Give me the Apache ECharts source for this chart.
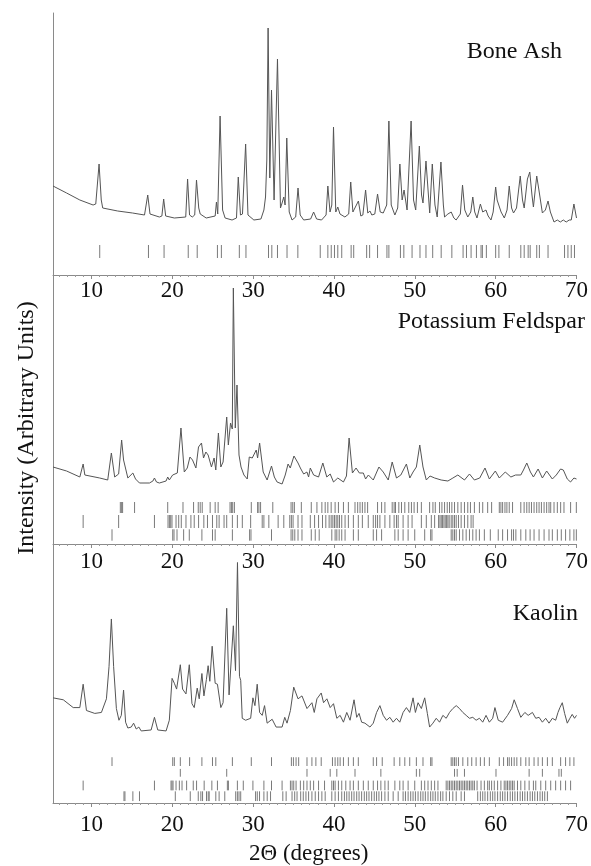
<!DOCTYPE html>
<html>
<head>
<meta charset="utf-8">
<script src="https://cdn.jsdelivr.net/npm/echarts@6/dist/echarts.min.js"></script>
<style>
html,body{margin:0;padding:0;background:#fff;}
#chart{width:591px;height:866px;}
</style>
</head>
<body>
<div id="chart"></div>
<script>
// ---- axis ticks / labels (2-theta, degrees) ----
const xLabels = [10, 20, 30, 40, 50, 60, 70];
const xMinorTicks = [6,7,8,9,10,11,12,13,14,15,16,17,18,19,20,21,22,23,24,25,26,27,28,29,30,31,32,33,34,35,36,37,38,39,40,41,42,43,44,45,46,47,48,49,50,51,52,53,54,55,56,57,58,59,60,61,62,63,64,65,66,67,68,69,70];
const panelTitles = ['Bone Ash', 'Potassium Feldspar', 'Kaolin'];

// ---- measured patterns [2theta, intensity (arbitrary units)] ----
const boneAshPattern = [
[5.24,89],[6.92,82],[8.56,75],[10.20,70],[10.53,71],[10.94,111],[11.21,75],[11.39,67],[13.24,64],[15.08,62],[16.56,60],[16.96,80],[17.24,61],[18.40,58],[18.71,59],[18.93,76],[19.18,59],[20.25,57],[21.66,58],[21.89,96],[22.13,60],[22.47,58],[22.77,60],[22.99,95],[23.27,67],[23.45,61],[24.19,57],[25.30,59],[25.46,73],[25.62,61],[25.91,159],[26.22,65],[26.53,57],[27.39,55],[27.94,57],[28.16,98],[28.43,60],[28.68,61],[29.07,131],[29.36,60],[30.09,55],[30.96,56],[31.33,65],[31.53,78],[31.69,115],[31.85,247],[32.06,97],[32.27,185],[32.59,75],[33.01,216],[33.38,67],[33.58,72],[33.79,78],[33.95,70],[34.16,137],[34.46,63],[34.81,55],[35.26,58],[35.55,87],[35.82,60],[36.25,55],[37.11,56],[37.48,63],[37.85,56],[38.46,55],[39.02,60],[39.24,89],[39.51,63],[39.73,70],[39.94,148],[40.22,63],[40.47,68],[40.74,61],[40.98,63],[41.35,58],[41.82,61],[42.07,93],[42.34,63],[42.58,65],[43.02,74],[43.32,59],[43.57,60],[43.91,85],[44.18,62],[44.45,64],[44.68,60],[45.05,61],[45.39,81],[45.72,63],[46.09,62],[46.52,70],[46.79,154],[47.08,70],[47.53,60],[47.88,67],[48.15,111],[48.43,75],[48.67,85],[49.04,65],[49.54,154],[49.84,75],[50.11,65],[50.56,129],[50.83,80],[51.01,72],[51.38,114],[51.84,62],[52.16,111],[52.49,70],[52.77,58],[53.23,113],[53.53,70],[53.68,58],[54.09,61],[54.50,63],[54.83,57],[55.11,55],[55.63,61],[55.90,90],[56.18,65],[56.55,58],[56.92,63],[57.17,78],[57.41,63],[57.69,57],[58.11,71],[58.40,63],[58.80,65],[59.07,59],[59.42,55],[59.69,63],[60.00,88],[60.18,75],[60.37,77],[60.67,63],[61.07,57],[61.41,65],[61.68,89],[61.97,67],[62.21,62],[62.58,67],[63.04,99],[63.32,75],[63.53,67],[63.93,96],[64.22,103],[64.49,80],[64.67,68],[65.08,99],[65.35,85],[65.78,62],[66.15,65],[66.48,74],[66.77,63],[67.22,53],[67.63,55],[68.00,53],[68.37,55],[68.73,53],[69.10,55],[69.35,55],[69.68,71],[70.00,57]
];
const feldsparPattern = [
[5.24,77],[6.92,73],[8.56,67],[8.97,80],[9.18,69],[11.02,66],[12.01,64],[12.46,91],[12.87,67],[13.36,70],[13.73,104],[13.97,84],[14.50,66],[15.12,71],[15.45,65],[15.94,61],[17.17,61],[17.60,63],[17.79,66],[18.04,62],[18.40,61],[19.23,63],[19.43,67],[19.63,64],[19.84,65],[20.04,69],[20.62,71],[21.07,116],[21.48,72],[21.85,76],[22.18,87],[22.50,84],[22.92,76],[23.24,97],[23.61,101],[23.86,86],[24.15,92],[24.43,89],[24.84,77],[25.17,86],[25.38,74],[25.70,111],[26.00,77],[26.28,82],[26.53,107],[26.73,127],[26.93,99],[27.20,121],[27.42,115],[27.55,256],[27.79,116],[28.00,159],[28.25,89],[28.50,77],[28.86,69],[29.27,65],[29.52,87],[29.89,86],[30.38,94],[30.55,86],[30.80,101],[31.24,72],[31.73,64],[32.27,78],[32.62,67],[32.96,62],[33.58,60],[33.97,69],[34.32,80],[34.59,76],[35.05,88],[35.55,81],[35.84,76],[36.04,73],[36.25,70],[36.65,72],[36.86,67],[37.07,76],[37.48,69],[38.09,67],[38.62,81],[39.11,67],[39.53,70],[39.94,62],[40.47,66],[41.17,62],[41.54,68],[41.87,106],[42.28,71],[42.73,76],[43.14,71],[43.63,71],[43.91,65],[44.25,69],[44.86,64],[45.56,77],[46.09,72],[46.71,64],[47.20,82],[47.73,66],[48.27,69],[48.96,80],[49.38,66],[49.78,72],[50.19,77],[50.61,99],[51.01,77],[51.42,64],[51.88,68],[52.45,66],[53.26,64],[54.09,63],[54.71,66],[55.32,69],[56.14,64],[56.76,70],[57.37,64],[58.03,66],[58.68,76],[59.22,65],[59.96,73],[60.45,66],[61.19,72],[61.88,67],[62.46,69],[63.11,69],[63.44,74],[63.85,81],[64.30,72],[64.67,67],[65.25,75],[65.78,66],[66.31,73],[67.01,65],[67.50,69],[68.03,75],[68.37,74],[68.86,65],[69.26,62],[69.68,66],[70.00,65]
];
const kaolinPattern = [
[5.24,108],[6.51,106],[7.74,98],[8.56,98],[8.97,122],[9.38,95],[10.41,92],[11.23,93],[11.85,107],[12.17,140],[12.46,189],[12.74,140],[13.08,97],[13.40,85],[13.69,90],[13.97,116],[14.22,83],[14.50,77],[14.92,78],[15.21,82],[15.54,76],[15.86,78],[16.15,74],[17.38,75],[17.79,88],[18.20,75],[19.23,74],[19.63,85],[19.97,128],[20.25,123],[20.53,117],[20.99,142],[21.27,117],[21.69,112],[22.10,142],[22.43,102],[22.71,98],[23.08,118],[23.33,107],[23.66,133],[23.91,110],[24.22,127],[24.43,141],[24.64,125],[24.93,161],[25.30,123],[25.58,122],[26.00,98],[26.28,103],[26.73,200],[27.02,111],[27.26,109],[27.55,182],[27.82,136],[28.06,247],[28.31,130],[28.46,126],[28.65,87],[29.07,85],[29.69,87],[29.97,108],[30.22,100],[30.50,122],[30.80,93],[31.12,90],[31.41,100],[31.73,82],[32.35,86],[32.84,78],[33.58,78],[33.91,88],[34.19,82],[34.61,95],[35.02,119],[35.55,107],[36.04,110],[36.66,97],[37.27,103],[37.56,93],[37.89,107],[38.42,113],[38.71,103],[39.12,107],[39.53,98],[39.94,102],[40.35,87],[40.76,90],[41.17,83],[41.58,93],[41.99,85],[42.48,106],[42.81,88],[43.10,92],[43.42,83],[43.83,82],[44.45,78],[44.86,82],[45.27,93],[45.68,100],[46.09,90],[46.50,85],[46.91,88],[47.32,83],[47.73,87],[48.14,83],[48.55,93],[48.96,98],[49.37,93],[49.78,108],[50.07,93],[50.40,103],[50.81,97],[51.22,108],[51.55,92],[51.83,78],[52.24,82],[52.65,87],[53.06,83],[53.47,90],[53.88,87],[54.29,93],[54.70,97],[55.12,100],[55.53,97],[55.94,93],[56.35,90],[56.76,87],[57.17,88],[57.58,85],[57.99,87],[58.40,83],[58.81,90],[59.22,83],[59.63,87],[59.91,98],[60.32,85],[60.86,83],[61.47,90],[61.97,97],[62.29,106],[62.70,97],[63.11,88],[63.61,93],[64.02,90],[64.55,93],[64.96,87],[65.37,88],[65.78,83],[66.19,87],[66.60,82],[67.01,87],[67.42,85],[67.71,93],[67.95,98],[68.24,103],[68.53,92],[68.86,82],[69.18,87],[69.47,91],[69.76,87],[70.00,90]
];

// ---- reference peak positions (2theta) ----
const boneAshRefs = [11.02,17.05,18.98,21.97,23.08,25.58,26.07,28.29,29.11,31.90,32.31,33.01,34.19,35.53,38.30,39.24,39.66,40.06,40.47,40.96,42.12,42.44,44.04,44.41,45.39,46.55,46.79,48.22,48.64,49.66,50.64,51.38,52.21,53.26,54.58,55.97,56.39,56.96,57.62,58.19,58.36,58.85,60.00,60.40,61.68,63.11,63.53,64.02,64.27,65.08,65.41,66.48,68.52,68.94,69.35,69.75];

const feldsparRefs1 = [13.57,13.73,13.85,15.33,19.43,21.32,22.63,23.21,23.45,23.70,24.68,25.30,25.67,27.14,27.31,27.47,27.68,29.77,30.55,30.71,30.92,32.43,34.69,34.90,35.10,35.96,37.19,37.89,38.50,38.91,39.24,39.65,40.14,40.55,41.17,41.78,42.60,42.93,43.22,43.51,43.83,44.16,45.39,45.89,46.30,47.20,47.44,47.61,48.02,48.35,48.76,49.25,49.58,49.91,50.32,50.81,51.83,52.24,52.53,53.06,53.35,53.68,54.01,54.29,54.58,54.91,55.32,55.73,56.14,56.55,56.88,57.37,57.99,58.40,59.01,59.50,60.45,60.65,60.86,61.15,61.39,61.68,62.09,63.11,63.52,63.85,64.14,64.43,64.75,65.08,65.37,65.66,65.99,66.31,66.60,66.81,67.22,67.63,68.04,68.45,69.27,69.98];
const feldsparRefs2 = [8.97,13.36,17.79,19.47,19.64,19.80,19.96,20.46,20.79,21.11,21.69,22.30,22.71,23.25,23.90,24.35,24.97,25.50,25.79,26.40,26.73,27.43,28.05,28.66,29.69,31.12,31.33,31.94,33.09,33.79,34.53,34.73,34.94,35.55,36.04,37.07,37.60,38.09,38.58,38.99,39.40,39.65,39.86,40.06,40.27,40.47,40.68,40.96,41.37,41.78,42.40,43.01,43.51,44.24,44.86,45.15,45.39,45.68,46.30,46.91,47.44,47.73,47.94,48.55,49.17,49.66,50.81,51.42,52.04,52.45,52.94,53.11,53.27,53.43,53.60,53.76,53.93,54.09,54.25,54.50,54.70,54.91,55.12,55.40,55.73,56.14,56.55,56.96,57.21];
const feldsparRefs3 = [12.54,20.05,20.21,20.58,21.40,22.10,23.66,24.97,25.30,27.43,29.56,29.73,32.27,34.69,34.90,35.15,35.55,36.04,37.19,37.68,38.17,39.73,40.14,40.35,40.64,40.96,41.37,42.40,43.01,44.86,45.27,45.89,47.53,47.94,48.55,49.17,49.99,51.22,51.96,52.12,54.50,54.70,54.91,55.12,55.53,55.94,56.35,56.76,57.17,57.58,57.99,58.60,59.34,60.32,60.86,61.47,61.97,62.21,62.50,63.11,63.73,64.26,64.75,65.37,65.99,66.60,67.01,67.63,68.12,68.65,69.18,69.68,69.98];

const kaolinRefs1 = [12.54,20.05,20.25,20.99,22.14,23.66,24.97,25.38,27.43,29.77,32.27,34.73,34.98,35.31,35.63,36.66,37.27,37.76,38.42,39.81,40.14,40.47,40.76,41.17,41.78,42.40,43.01,44.86,45.27,45.97,47.44,48.14,48.76,49.37,50.19,51.01,51.96,52.12,54.50,54.70,54.91,55.12,55.40,55.94,56.55,57.04,57.58,58.11,58.60,59.22,60.45,60.98,61.47,61.68,61.97,62.29,62.62,63.11,63.73,64.14,64.75,65.25,65.78,66.40,67.01,68.04,68.65,69.18,69.68];
const kaolinRefs2 = [20.99,26.73,36.66,39.53,40.35,42.60,45.80,50.19,50.60,54.91,55.24,56.14,60.04,64.14,65.78,67.83,68.12];
const kaolinRefs3 = [8.97,17.79,19.84,19.96,20.09,20.46,20.87,21.20,21.77,22.59,23.00,23.94,24.89,25.58,26.81,26.94,28.05,28.78,29.97,31.33,32.27,33.58,34.61,34.81,35.02,35.31,35.84,36.25,36.66,37.07,37.48,38.09,38.83,39.73,39.94,40.14,40.55,40.96,41.46,41.99,42.40,43.01,43.63,44.24,44.86,45.39,45.80,46.30,46.71,47.53,48.14,48.55,49.17,49.99,50.81,51.22,51.63,52.04,52.45,52.86,53.88,54.09,54.29,54.50,54.70,54.91,55.12,55.32,55.53,55.73,55.94,56.14,56.35,56.55,56.76,56.96,57.17,57.37,57.70,58.19,58.60,59.01,59.22,59.50,59.83,60.24,60.65,61.06,61.27,61.47,61.68,61.88,62.09,62.29,62.70,63.11,63.61,64.14,64.67,64.96,65.58,66.19,66.81,67.42,68.04,68.65,69.27];
const kaolinRefs4 = [14.02,14.14,15.12,15.94,20.37,22.22,23.21,23.53,23.74,24.23,24.44,24.56,25.38,25.79,26.49,27.84,28.05,28.25,28.46,30.30,30.51,30.79,31.33,31.74,32.15,33.67,34.08,34.81,35.14,35.43,35.88,36.20,36.53,36.86,37.27,37.68,38.09,38.50,38.91,39.73,40.14,40.55,40.96,41.29,41.58,41.87,42.19,42.48,42.81,43.10,43.42,43.75,44.04,44.33,44.66,44.98,45.27,45.56,45.89,46.30,46.71,47.32,47.94,48.55,48.84,49.17,49.49,49.78,50.07,50.40,50.73,51.01,51.30,51.63,51.96,52.24,52.53,52.86,53.19,53.47,53.88,54.29,54.70,55.12,55.73,56.14,57.78,58.11,58.40,58.68,59.01,59.34,59.63,59.91,60.24,60.57,60.86,61.15,61.47,61.80,62.09,62.38,62.70,63.03,63.32,63.61,63.93,64.26,64.55,64.84,65.17,65.49,65.78,66.07,66.40];

// ---- layout ----
const FONT = 'Liberation Serif';
const X_MIN = 5.24, X_MAX = 70;
const grids = [
  {left: 53, right: 11.7, top: 13, height: 262},
  {left: 53, right: 11.7, top: 275, height: 269},
  {left: 53, right: 11.7, top: 544, height: 266}
];
const labelMargins = [4, 6, 10];

const xAxes = [], yAxes = [];
grids.forEach((g, i) => {
  xAxes.push({
    type: 'value', gridIndex: i, min: X_MIN, max: X_MAX, position: 'bottom',
    axisLine: {show: true, lineStyle: {color: '#8a8a8a', width: 1}},
    axisTick: {show: true, customValues: xMinorTicks, length: 2, inside: false, lineStyle: {color: '#9a9a9a'}},
    axisLabel: {show: true, customValues: xLabels, margin: labelMargins[i], fontFamily: FONT, fontSize: 23, color: '#111'},
    splitLine: {show: false},
    name: i === 2 ? '2\u0398 (degrees)' : '',
    nameLocation: 'middle', nameGap: 39,
    nameTextStyle: {fontFamily: FONT, fontSize: 23, color: '#111', padding: [0, 12, 0, 0]}
  });
  yAxes.push({
    type: 'value', gridIndex: i, min: 0, max: g.height,
    axisLine: {show: true, lineStyle: {color: '#8a8a8a', width: 1}},
    axisTick: {show: false}, axisLabel: {show: false}, splitLine: {show: false}
  });
});
// major ticks overlay
grids.forEach((g, i) => {
  xAxes.push({
    type: 'value', gridIndex: i, min: X_MIN, max: X_MAX, position: 'bottom',
    axisLine: {show: false},
    axisTick: {show: true, customValues: xLabels, length: 4, lineStyle: {color: '#8a8a8a'}},
    axisLabel: {show: false}, splitLine: {show: false}
  });
});

function patternSeries(data, i) {
  return {
    type: 'line', xAxisIndex: i, yAxisIndex: i, data: data,
    showSymbol: false, symbol: 'none', smooth: false,
    lineStyle: {color: '#555', width: 1}, silent: true, z: 3
  };
}
function refSeries(refs, i, lo, hi) {
  return {
    type: 'custom', xAxisIndex: i, yAxisIndex: i, silent: true,
    data: refs.map(v => [v, lo]),
    encode: {x: 0, y: 1},
    renderItem: function (params, api) {
      const x = api.value(0);
      const p1 = api.coord([x, lo]);
      const p2 = api.coord([x, hi]);
      return {type: 'line', shape: {x1: p1[0], y1: p1[1], x2: p2[0], y2: p2[1]},
              style: {stroke: '#7a7a7a', lineWidth: 1}};
    }
  };
}

const series = [
  patternSeries(boneAshPattern, 0),
  refSeries(boneAshRefs, 0, 17, 30),
  patternSeries(feldsparPattern, 1),
  refSeries(feldsparRefs1, 1, 31, 42),
  refSeries(feldsparRefs2, 1, 16, 29),
  refSeries(feldsparRefs3, 1, 3.3, 14.7),
  patternSeries(kaolinPattern, 2),
  refSeries(kaolinRefs1, 2, 38, 47),
  refSeries(kaolinRefs2, 2, 27, 35),
  refSeries(kaolinRefs3, 2, 13, 23),
  refSeries(kaolinRefs4, 2, 2, 12)
];

const titleStyle = {fontFamily: FONT, fontSize: 24, fontWeight: 'normal', color: '#111'};
const chart = echarts.init(document.getElementById('chart'), null, {renderer: 'canvas'});
chart.setOption({
  animation: false,
  backgroundColor: '#fff',
  title: [
    {text: panelTitles[0], right: 29, top: 40, padding: 0, textStyle: titleStyle},
    {text: panelTitles[1], right: 6, top: 310, padding: 0, textStyle: titleStyle},
    {text: panelTitles[2], right: 13, top: 602, padding: 0, textStyle: titleStyle}
  ],
  grid: grids,
  xAxis: xAxes,
  yAxis: yAxes,
  series: series,
  graphic: [{
    type: 'text', x: 27, y: 428, rotation: Math.PI / 2,
    style: {text: 'Intensity (Arbitrary Units)', font: '24px "Liberation Serif"', fill: '#111',
            align: 'center', verticalAlign: 'middle'}
  }]
});
</script>
</body>
</html>
